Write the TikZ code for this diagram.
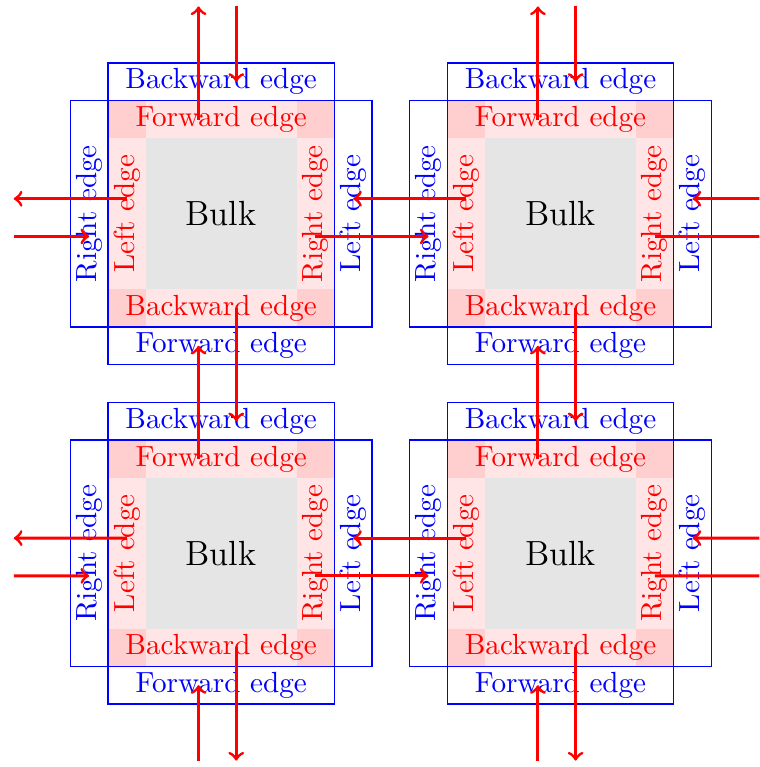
\documentclass[tikz,border=0pt]{standalone}
\usepackage{tikz}

\begin{document}
\begin{tikzpicture}[x=0.455cm, y=0.455cm,
  bulk/.style={fill=black!10, minimum size=1.82cm, inner sep=0pt, font=\large},
  own/.style={fill=red, fill opacity=0.1, text opacity=1, text=red, minimum width=2.73cm, minimum height=0.455cm, inner sep=0pt},
  ghost/.style={draw=blue, text=blue, minimum width=2.73cm, minimum height=0.455cm, inner sep=0pt},
  flow/.style={->, red, line width=1pt},
]
  \useasboundingbox (-2.865,-11.67) rectangle (17.27,8.67);
  \clip (-2.865,-11.67) rectangle (17.27,8.67);
  % --- tile a (top left) ---
  \begin{scope}[shift={(0,0)}]
    \node[bulk] (a) at (3,3) {Bulk};
    \node[own] (a-f) at (3,5.5) {Forward edge};
    \node[own] (a-b) at (3,0.5) {Backward edge};
    \node[own, rotate=90] (a-l) at (0.5,3) {Left edge};
    \node[own, rotate=90] (a-r) at (5.5,3) {Right edge};
    \node[ghost] (a-gb) at (3,6.5) {Backward edge};
    \node[ghost] (a-gf) at (3,-0.5) {Forward edge};
    \node[ghost, rotate=90] (a-gr) at (-0.5,3) {Right edge};
    \node[ghost, rotate=90] (a-gl) at (6.5,3) {Left edge};
    \coordinate (a-uo) at (2.4,5.5); \coordinate (a-ui) at (2.4,-0.5);
    \coordinate (a-do) at (3.4,0.5); \coordinate (a-di) at (3.4,6.5);
    \coordinate (a-lo) at (0.5,3.4); \coordinate (a-li) at (6.5,3.4);
    \coordinate (a-ro) at (5.5,2.4); \coordinate (a-ri) at (-0.5,2.4);
  \end{scope}
  % --- tile b (top right) ---
  \begin{scope}[shift={(9,0)}]
    \node[bulk] (b) at (3,3) {Bulk};
    \node[own] (b-f) at (3,5.5) {Forward edge};
    \node[own] (b-b) at (3,0.5) {Backward edge};
    \node[own, rotate=90] (b-l) at (0.5,3) {Left edge};
    \node[own, rotate=90] (b-r) at (5.5,3) {Right edge};
    \node[ghost] (b-gb) at (3,6.5) {Backward edge};
    \node[ghost] (b-gf) at (3,-0.5) {Forward edge};
    \node[ghost, rotate=90] (b-gr) at (-0.5,3) {Right edge};
    \node[ghost, rotate=90] (b-gl) at (6.5,3) {Left edge};
    \coordinate (b-uo) at (2.4,5.5); \coordinate (b-ui) at (2.4,-0.5);
    \coordinate (b-do) at (3.4,0.5); \coordinate (b-di) at (3.4,6.5);
    \coordinate (b-lo) at (0.5,3.4); \coordinate (b-li) at (6.5,3.4);
    \coordinate (b-ro) at (5.5,2.4); \coordinate (b-ri) at (-0.5,2.4);
  \end{scope}
  % --- tile c (bottom left) ---
  \begin{scope}[shift={(0,-9)}]
    \node[bulk] (c) at (3,3) {Bulk};
    \node[own] (c-f) at (3,5.5) {Forward edge};
    \node[own] (c-b) at (3,0.5) {Backward edge};
    \node[own, rotate=90] (c-l) at (0.5,3) {Left edge};
    \node[own, rotate=90] (c-r) at (5.5,3) {Right edge};
    \node[ghost] (c-gb) at (3,6.5) {Backward edge};
    \node[ghost] (c-gf) at (3,-0.5) {Forward edge};
    \node[ghost, rotate=90] (c-gr) at (-0.5,3) {Right edge};
    \node[ghost, rotate=90] (c-gl) at (6.5,3) {Left edge};
    \coordinate (c-uo) at (2.4,5.5); \coordinate (c-ui) at (2.4,-0.5);
    \coordinate (c-do) at (3.4,0.5); \coordinate (c-di) at (3.4,6.5);
    \coordinate (c-lo) at (0.5,3.4); \coordinate (c-li) at (6.5,3.4);
    \coordinate (c-ro) at (5.5,2.4); \coordinate (c-ri) at (-0.5,2.4);
  \end{scope}
  % --- tile d (bottom right) ---
  \begin{scope}[shift={(9,-9)}]
    \node[bulk] (d) at (3,3) {Bulk};
    \node[own] (d-f) at (3,5.5) {Forward edge};
    \node[own] (d-b) at (3,0.5) {Backward edge};
    \node[own, rotate=90] (d-l) at (0.5,3) {Left edge};
    \node[own, rotate=90] (d-r) at (5.5,3) {Right edge};
    \node[ghost] (d-gb) at (3,6.5) {Backward edge};
    \node[ghost] (d-gf) at (3,-0.5) {Forward edge};
    \node[ghost, rotate=90] (d-gr) at (-0.5,3) {Right edge};
    \node[ghost, rotate=90] (d-gl) at (6.5,3) {Left edge};
    \coordinate (d-uo) at (2.4,5.5); \coordinate (d-ui) at (2.4,-0.5);
    \coordinate (d-do) at (3.4,0.5); \coordinate (d-di) at (3.4,6.5);
    \coordinate (d-lo) at (0.5,3.4); \coordinate (d-li) at (6.5,3.4);
    \coordinate (d-ro) at (5.5,2.4); \coordinate (d-ri) at (-0.5,2.4);
  \end{scope}
  % --- outer neighbours ---
  \coordinate (an-ui) at (2.4,8.5); \coordinate (an-do) at (3.4,8.5);
  \coordinate (bn-ui) at (11.4,8.5); \coordinate (bn-do) at (12.4,8.5);
  \coordinate (cs-uo) at (2.4,-11.5); \coordinate (cs-di) at (3.4,-11.5);
  \coordinate (ds-uo) at (11.4,-11.5); \coordinate (ds-di) at (12.4,-11.5);
  \coordinate (aw-li) at (-2.5,3.4); \coordinate (aw-ro) at (-2.5,2.4);
  \coordinate (cw-li) at (-2.5,-5.6); \coordinate (cw-ro) at (-2.5,-6.6);
  \coordinate (be-lo) at (17.5,3.4); \coordinate (be-ri) at (17.5,2.4);
  \coordinate (de-lo) at (17.5,-5.6); \coordinate (de-ri) at (17.5,-6.6);
  % --- vertical exchange ---
  \draw[flow] (a-uo) -- (an-ui); \draw[flow] (an-do) -- (a-di);
  \draw[flow] (b-uo) -- (bn-ui); \draw[flow] (bn-do) -- (b-di);
  \draw[flow] (a-do) -- (c-di); \draw[flow] (c-uo) -- (a-ui);
  \draw[flow] (b-do) -- (d-di); \draw[flow] (d-uo) -- (b-ui);
  \draw[flow] (c-do) -- (cs-di); \draw[flow] (cs-uo) -- (c-ui);
  \draw[flow] (d-do) -- (ds-di); \draw[flow] (ds-uo) -- (d-ui);
  % --- horizontal exchange ---
  \draw[flow] (a-lo) -- (aw-li); \draw[flow] (aw-ro) -- (a-ri);
  \draw[flow] (c-lo) -- (cw-li); \draw[flow] (cw-ro) -- (c-ri);
  \draw[flow] (a-ro) -- (b-ri); \draw[flow] (b-lo) -- (a-li);
  \draw[flow] (c-ro) -- (d-ri); \draw[flow] (d-lo) -- (c-li);
  \draw[flow] (b-ro) -- (be-ri); \draw[flow] (be-lo) -- (b-li);
  \draw[flow] (d-ro) -- (de-ri); \draw[flow] (de-lo) -- (d-li);
\end{tikzpicture}
\end{document}
